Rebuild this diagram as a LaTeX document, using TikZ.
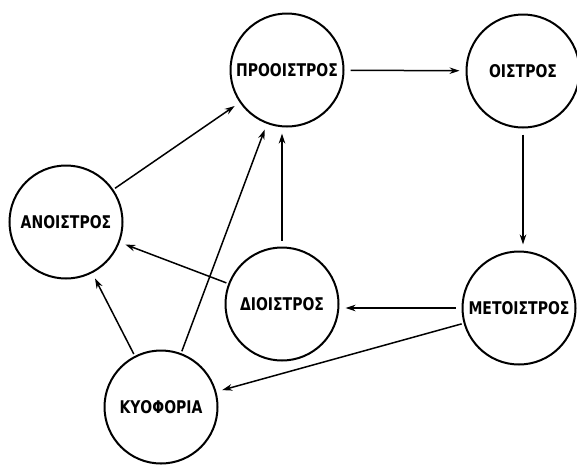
\documentclass[tikz,border=0pt]{standalone}
\usepackage{graphicx}
\usepackage{fontspec}
\newfontfamily\lblfont{DejaVu Sans}
\usetikzlibrary{arrows.meta}
\newcommand\glbl[1]{\scalebox{1}[1.25]{#1}}
\begin{document}
\begin{tikzpicture}[x=1pt,y=-1pt,
  state/.style={circle,draw,line width=2pt,minimum size=113pt,inner sep=0pt},
  lab/.style={font={\lblfont\bfseries\fontsize{14}{17}\selectfont}},
  arr/.style={line width=1.5pt,-{Stealth[length=10pt,width=6.5pt]},shorten >=6pt,shorten <=6pt}]
\useasboundingbox (0,0) rectangle (577,464);
\node[state,label={[lab]center:\glbl{ΠΡΟΟΙΣΤΡΟΣ}}] (pro) at (287,70) {};
\node[state,label={[lab]center:\glbl{ΟΙΣΤΡΟΣ}}] (ois) at (523,71) {};
\node[state,label={[lab]center:\glbl{ΑΝΟΙΣΤΡΟΣ}}] (ano) at (66,222) {};
\node[state,label={[lab]center:\glbl{ΔΙΟΙΣΤΡΟΣ}}] (dio) at (282,304) {};
\node[state,label={[lab]center:\glbl{ΜΕΤΟΙΣΤΡΟΣ}}] (met) at (519,308) {};
\node[state,label={[lab]center:\glbl{ΚΥΟΦΟΡΙΑ}}] (kyo) at (161,407) {};
\draw[arr] (pro) -- (ois);
\draw[arr] (ois.south) -- (ois.south |- met.north);
\draw[arr] (met.west) -- (met.west -| dio.east);
\draw[arr] (dio.north) -- (dio.north |- pro.south);
\draw[arr,shorten <=2pt] (met) -- (kyo);
\draw[arr,shorten <=2pt] (dio) -- (ano);
\draw[arr,shorten <=2pt] (ano) -- (pro);
\draw[arr,shorten <=2pt] (kyo) -- (ano);
\draw[arr,shorten <=2pt] (kyo) -- (pro);
\end{tikzpicture}
\end{document}
